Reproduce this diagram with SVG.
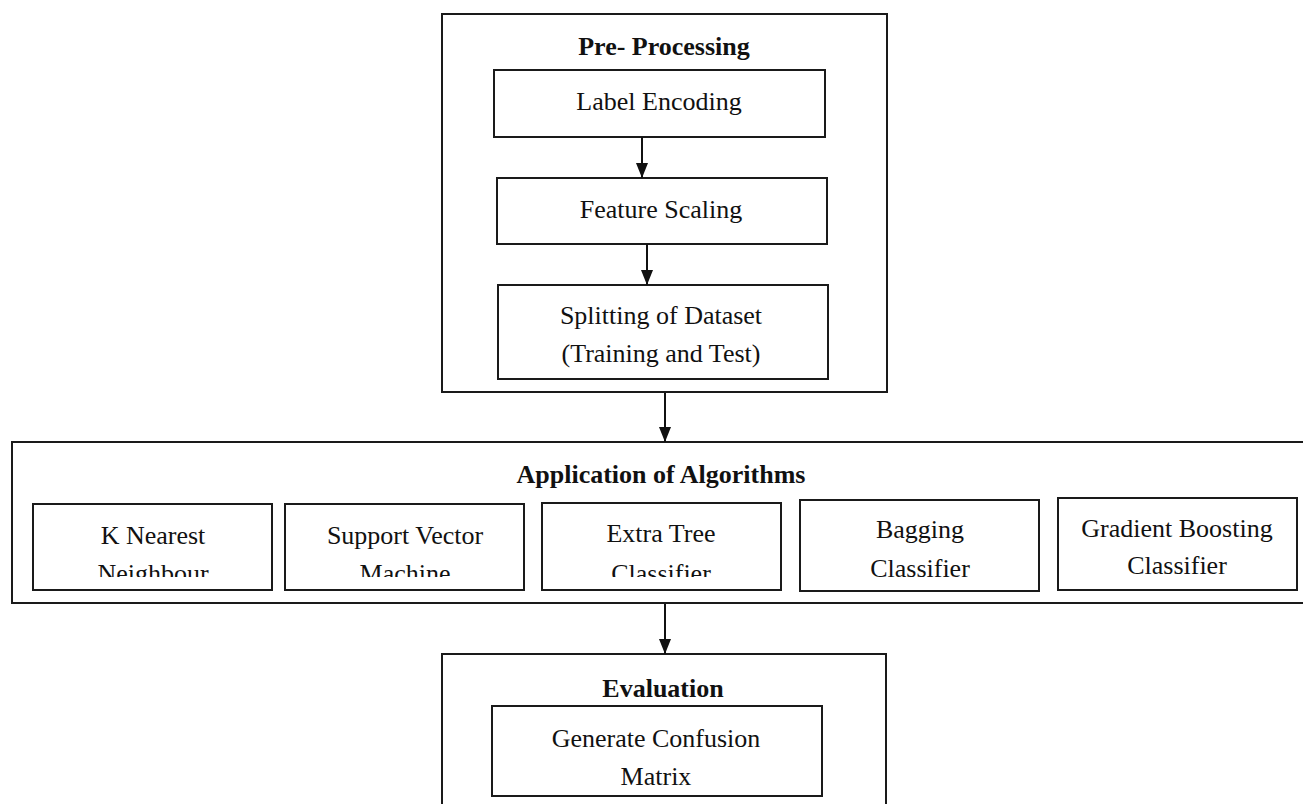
<svg xmlns="http://www.w3.org/2000/svg" width="1303" height="804" viewBox="0 0 1303 804">
<style>
rect{fill:#fff;stroke:#1a1a1a;stroke-width:2}
text{font-family:"Liberation Serif","Times New Roman",serif;font-size:26px;fill:#111;text-anchor:middle}
.b{font-weight:bold}
.c{stroke:#111;stroke-width:2;fill:none}
</style>
<defs>
<marker id="ah" markerWidth="15" markerHeight="12" refX="15" refY="6" orient="auto" markerUnits="userSpaceOnUse" viewBox="0 0 15 12">
<path d="M0,0 L15,6 L0,12 Z" fill="#111"/>
</marker>
<clipPath id="cl"><rect x="0" y="440" width="1303" height="137"/></clipPath>
</defs>
<rect x="0" y="0" width="1303" height="804" style="stroke:none"/>
<g id="preprocessing">
<rect x="442" y="14" width="445" height="378"/>
<text class="b" x="664" y="55">Pre- Processing</text>
</g>
<g id="label-encoding">
<rect x="494" y="70" width="331" height="67"/>
<text x="659" y="110">Label Encoding</text>
</g>
<g id="feature-scaling">
<rect x="497" y="178" width="330" height="66"/>
<text x="661" y="218">Feature Scaling</text>
</g>
<g id="splitting">
<rect x="498" y="285" width="330" height="94"/>
<text x="661" y="324">Splitting of Dataset</text>
<text x="661" y="362">(Training and Test)</text>
</g>
<g id="application">
<rect x="12" y="442" width="1300" height="161"/>
<text class="b" x="661" y="483">Application of Algorithms</text>
</g>
<g id="knn">
<rect x="33" y="504" width="239" height="86"/>
<text x="153" y="544">K Nearest</text>
<text x="153" y="582" clip-path="url(#cl)">Neighbour</text>
</g>
<g id="svm">
<rect x="285" y="504" width="239" height="86"/>
<text x="405" y="544">Support Vector</text>
<text x="405" y="582" clip-path="url(#cl)">Machine</text>
</g>
<g id="extra-tree">
<rect x="542" y="503" width="239" height="87"/>
<text x="661" y="542">Extra Tree</text>
<text x="661" y="582" clip-path="url(#cl)">Classifier</text>
</g>
<g id="bagging">
<rect x="800" y="500" width="239" height="91"/>
<text x="920" y="538">Bagging</text>
<text x="920" y="577">Classifier</text>
</g>
<g id="gradient-boosting">
<rect x="1058" y="498" width="239" height="92"/>
<text x="1177" y="537">Gradient Boosting</text>
<text x="1177" y="574">Classifier</text>
</g>
<g id="evaluation">
<rect x="442" y="654" width="444" height="170"/>
<text class="b" x="663" y="697">Evaluation</text>
</g>
<g id="confusion-matrix">
<rect x="492" y="706" width="330" height="90"/>
<text x="656" y="747">Generate Confusion</text>
<text x="656" y="785">Matrix</text>
</g>
<g id="connectors">
<line class="c" x1="642" y1="137" x2="642" y2="178" marker-end="url(#ah)"/>
<line class="c" x1="647" y1="244" x2="647" y2="285" marker-end="url(#ah)"/>
<line class="c" x1="665" y1="393" x2="665" y2="442" marker-end="url(#ah)"/>
<line class="c" x1="665" y1="604" x2="665" y2="654" marker-end="url(#ah)"/>
</g>
</svg>
